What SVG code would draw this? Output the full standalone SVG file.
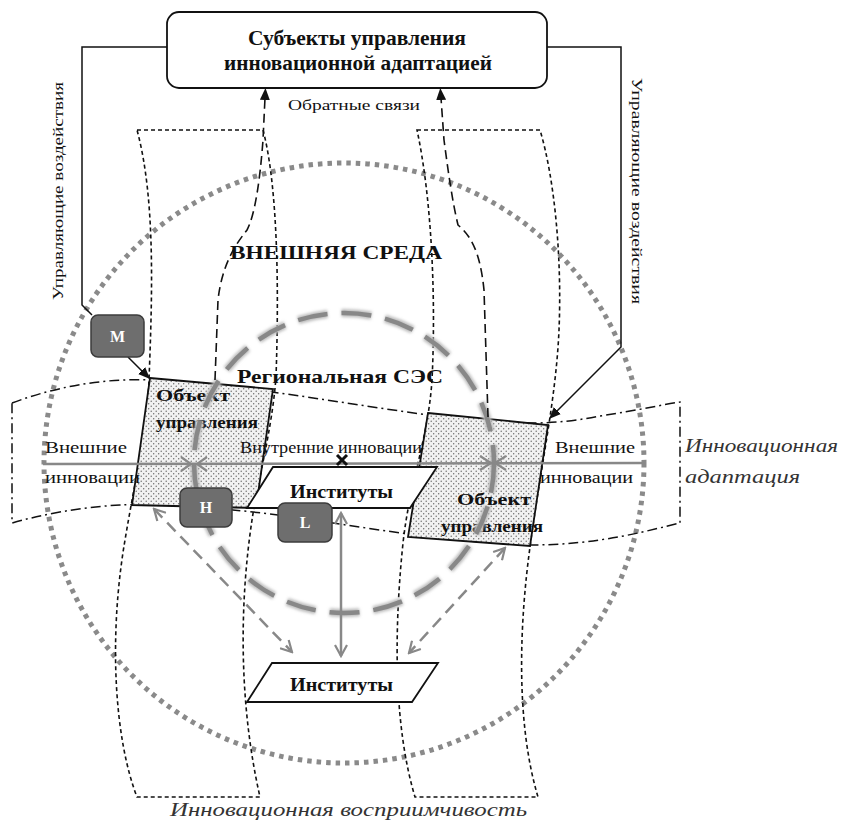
<svg xmlns="http://www.w3.org/2000/svg" width="841" height="823" viewBox="0 0 841 823">
<style>
.serif{font-family:"Liberation Serif","DejaVu Serif",serif;fill:#111}
.b{font-weight:bold}
.it{font-style:italic;fill:#333}
.tall{fill:none;stroke:#111;stroke-width:1.6;stroke-dasharray:4 3}
.band{fill:none;stroke:#111;stroke-width:1.5;stroke-dasharray:10 4 2 4}
.fb{fill:none;stroke:#111;stroke-width:1.6;stroke-dasharray:9 5}
.obj{fill:url(#dots);stroke:#111;stroke-width:1.8}
.inst{fill:#fff;stroke:#111;stroke-width:1.8}
.gbox{fill:#6e6e6e;stroke:#3c3c3c;stroke-width:1.5}
.gtxt{font-family:"Liberation Serif",serif;font-weight:bold;font-size:16px;fill:#fff;text-anchor:middle}
.gline{fill:none;stroke:#888;stroke-width:2.5}
.conn{fill:none;stroke:#111;stroke-width:1.5}
</style>
<defs>
<pattern id="dots" width="5" height="5" patternUnits="userSpaceOnUse">
<rect width="5" height="5" fill="#f2f2f2"/>
<circle cx="1.2" cy="1.2" r="0.7" fill="#666"/>
<circle cx="3.7" cy="3.7" r="0.7" fill="#666"/>
</pattern>
<marker id="ah" viewBox="0 0 12 10" markerWidth="12" markerHeight="10" refX="2" refY="5" orient="auto" markerUnits="userSpaceOnUse">
<path d="M0,0 L12,5 L0,10 z" fill="#111"/>
</marker>
<marker id="vo" viewBox="0 0 14 14" markerWidth="14" markerHeight="14" refX="12" refY="7" orient="auto-start-reverse" markerUnits="userSpaceOnUse">
<path d="M1,1 L12,7 L1,13" fill="none" stroke="#888" stroke-width="2.2"/>
</marker>
<filter id="soft" x="-10%" y="-10%" width="120%" height="120%">
<feGaussianBlur stdDeviation="1.6"/>
</filter>
</defs>
<rect width="841" height="823" fill="#fff"/>

<g id="outer-environment">
<circle cx="344" cy="463" r="300" fill="none" stroke="#8a8a8a" stroke-width="5" stroke-dasharray="4.5 5"/>
</g>

<g id="receptivity-bands">
<path class="tall" d="M137,130 L263,130 C275,175 280,260 276,377 C272,430 258,480 252,520 C240,600 238,700 260,797 L137,797 C115,740 108,640 125,540 C135,480 147,430 149,380 C152,300 156,200 137,130 Z"/>
<path class="tall" d="M417,130 L540,130 C555,180 562,260 559,330 C556,400 540,470 530,547 C520,620 515,720 538,797 L415,797 C395,730 393,640 403,543 C410,480 428,440 432,380 C436,300 432,200 417,130 Z"/>
</g>

<g id="adaptation-band">
<path class="band" d="M12,403 C60,385 110,378 150,380 C250,385 350,405 450,418 C520,426 560,424 600,416 C640,410 660,405 680,402 L680,523 C650,530 600,545 530,545 C450,542 380,530 300,518 C230,508 160,503 120,505 C80,507 40,515 12,523 Z"/>
</g>

<g id="object-left">
<polygon class="obj" points="150,378 273,389 256,508 132,505"/>
<text class="serif b" x="156" y="401" font-size="16" textLength="74" lengthAdjust="spacingAndGlyphs">Объект</text>
<text class="serif b" x="156" y="428" font-size="16" textLength="102" lengthAdjust="spacingAndGlyphs">управления</text>
</g>
<g id="object-right">
<polygon class="obj" points="428,413 548,425 530,546 408,537"/>
<text class="serif b" x="457" y="505" font-size="16" textLength="74" lengthAdjust="spacingAndGlyphs">Объект</text>
<text class="serif b" x="441" y="532" font-size="16" textLength="102" lengthAdjust="spacingAndGlyphs">управления</text>
</g>

<g id="regional-ses">
<circle cx="344" cy="463" r="150" fill="none" stroke="#bbb" stroke-width="8" stroke-dasharray="30 14" filter="url(#soft)"/>
<circle cx="344" cy="463" r="150" fill="none" stroke="#888" stroke-width="4.5" stroke-dasharray="30 14"/>
<text class="serif b" x="237" y="383" font-size="19" textLength="206" lengthAdjust="spacingAndGlyphs">Региональная СЭС</text>
</g>

<g id="institutes-top">
<polygon class="inst" points="273,467 437,467 410,508 247,508"/>
<text class="serif b" x="290" y="498" font-size="18" textLength="103" lengthAdjust="spacingAndGlyphs">Институты</text>
</g>
<g id="institutes-bottom">
<polygon class="inst" points="272,663 438,663 412,702 247,702"/>
<text class="serif b" x="290" y="691" font-size="18" textLength="103" lengthAdjust="spacingAndGlyphs">Институты</text>
</g>

<g id="subjects">
<rect x="167" y="12" width="380" height="76" rx="12" fill="#fff" stroke="#111" stroke-width="1.8"/>
<text class="serif b" x="248" y="45" font-size="20" textLength="218" lengthAdjust="spacingAndGlyphs">Субъекты управления</text>
<text class="serif b" x="224" y="70" font-size="20" textLength="268" lengthAdjust="spacingAndGlyphs">инновационной адаптацией</text>
</g>

<g id="connectors">
<path class="conn" d="M167,47 L82,47 L82,305 L92,315"/>
<path class="conn" d="M128,357 L143,372" marker-end="url(#ah)"/>
<path class="conn" d="M547,47 L621,47 L621,347 L556,412" marker-end="url(#ah)"/>
<path class="fb" d="M215,380 L218,300 C222,265 235,245 247,230 C255,215 260,180 263,140 L265,98" marker-end="url(#ah)"/>
<path class="fb" d="M488,417 L484,290 C480,250 470,235 458,225 C452,200 448,170 444,140 L441,98" marker-end="url(#ah)"/>
<path class="gline" d="M43,464 L645,463"/>
<path d="M181,457 L191,464 L181,471 M207,457 L197,464 L207,471" fill="none" stroke="#888" stroke-width="2.2"/>
<path d="M480,456 L491,463 L480,470 M506,456 L495,463 L506,470" fill="none" stroke="#888" stroke-width="2.2"/>
<path d="M337,455 L347,465 M347,455 L337,465" stroke="#111" stroke-width="3"/>
<path class="gline" d="M154,509 L292,652" stroke-dasharray="12 7" marker-start="url(#vo)" marker-end="url(#vo)"/>
<path class="gline" d="M505,548 L409,653" stroke-dasharray="12 7" marker-start="url(#vo)" marker-end="url(#vo)"/>
<path class="gline" d="M341,513 L341,656" marker-start="url(#vo)" marker-end="url(#vo)"/>
</g>

<g id="box-M">
<rect class="gbox" x="91" y="315" width="53" height="42" rx="7"/>
<text class="gtxt" x="117.5" y="342">M</text>
</g>
<g id="box-H">
<rect class="gbox" x="180" y="488" width="52" height="39" rx="7"/>
<text class="gtxt" x="206" y="513">H</text>
</g>
<g id="box-L">
<rect class="gbox" x="278" y="503" width="54" height="39" rx="7"/>
<text class="gtxt" x="305" y="528">L</text>
</g>

<g id="labels">
<text class="serif" x="288" y="110" font-size="15" textLength="132" lengthAdjust="spacingAndGlyphs">Обратные связи</text>
<text class="serif b" x="230" y="259" font-size="19" textLength="212" lengthAdjust="spacingAndGlyphs">ВНЕШНЯЯ СРЕДА</text>
<text class="serif" font-size="15" text-anchor="middle" transform="translate(63,191) rotate(-90)" textLength="218" lengthAdjust="spacingAndGlyphs">Управляющие воздействия</text>
<text class="serif" font-size="15" text-anchor="middle" transform="translate(632,191) rotate(90)" textLength="226" lengthAdjust="spacingAndGlyphs">Управляющие воздействия</text>
<text class="serif" x="45" y="453" font-size="16" textLength="82" lengthAdjust="spacingAndGlyphs">Внешние</text>
<text class="serif" x="45" y="483" font-size="16" textLength="95" lengthAdjust="spacingAndGlyphs">инновации</text>
<text class="serif" x="240" y="453" font-size="16" textLength="182" lengthAdjust="spacingAndGlyphs">Внутренние инновации</text>
<text class="serif" x="555" y="453" font-size="16" textLength="80" lengthAdjust="spacingAndGlyphs">Внешние</text>
<text class="serif" x="540" y="483" font-size="16" textLength="93" lengthAdjust="spacingAndGlyphs">инновации</text>
<text class="serif it" x="685" y="452" font-size="19" textLength="153" lengthAdjust="spacingAndGlyphs">Инновационная</text>
<text class="serif it" x="685" y="483" font-size="19" textLength="115" lengthAdjust="spacingAndGlyphs">адаптация</text>
<text class="serif it" x="170" y="816" font-size="19" textLength="357" lengthAdjust="spacingAndGlyphs">Инновационная восприимчивость</text>
</g>
</svg>
